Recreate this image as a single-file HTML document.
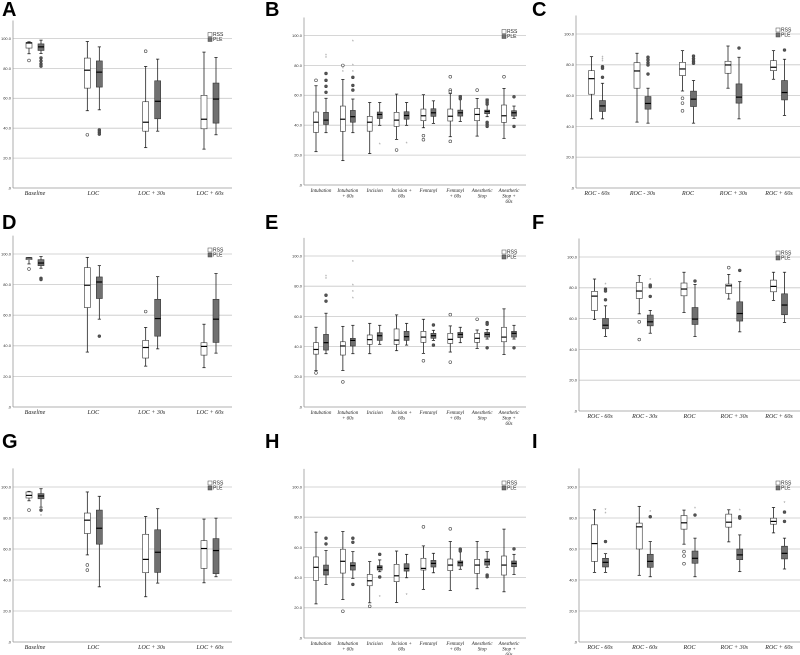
<!DOCTYPE html>
<html><head><meta charset="utf-8"><style>
html,body{margin:0;padding:0;background:#fff;width:800px;height:655px;overflow:hidden}
svg{display:block}
.pl{font-family:"Liberation Sans",sans-serif;font-weight:bold;font-size:20px;fill:#000}
.tk{font-family:"Liberation Sans",sans-serif;font-size:4px;fill:#333}
.xl{font-family:"Liberation Serif",serif;font-style:italic;font-size:6px;fill:#222}
.xs{font-family:"Liberation Serif",serif;font-style:italic;font-size:5px;fill:#222}
.lg{font-family:"Liberation Sans",sans-serif;font-size:5px;fill:#222}
</style></head><body>
<svg id="fig" width="800" height="655" viewBox="0 0 800 655"></svg>
<script>
// ---- data (stats: [whiskerLow, q1, median, q3, whiskerHigh]) ----
const catsLOC=["Baseline","LOC","LOC + 30s","LOC + 60s"];
const catsEvt=["Intubation","Intubation|+ 60s","Incision","Incision +|60s","Fentanyl","Fentanyl|+ 60s","Anesthetic|Stop","Anesthetic|Stop +|60s"];
const catsROC=["ROC - 60s","ROC - 30s","ROC","ROC + 30s","ROC + 60s"];
const catsROC2=["ROC - 60s","ROC - 60s","ROC","ROC + 30s","ROC + 60s"];
const yTicks=[0,20,40,60,80,100];
const yTickLabels=[".0","20.0","40.0","60.0","80.0","100.0"];

const A_rss=[[89.8,93.6,97,97.3,97.8],[51.7,66.8,78.8,86.9,98],[27,38,44,57.7,81.3],[26,39.6,46,62,90.9]];
const A_ple=[[90,92,94.4,96.4,98.9],[52.3,67.5,77.5,85,94.4],[38,46.3,58,71.7,86.2],[35.6,43.4,59.5,70.2,87.3]];
const A_rssOut=[[85.3],[35.6],[91.5],[]];
const A_pleOut=[[87,85,83,81.5],[38.8,37.4,36],[],[]];

const B_rss=[[22.3,35.2,42,48.8,66.4],[16.3,35.9,44,52.8,70.6],[21,36,42,45.9,55.2],[30.5,39.2,43.4,48.6,60.8],[38.3,43,46.3,50.8,60.4],[32.3,42.8,46,50.8,61.2],[32.7,43,47.2,51.2,57.9],[31.2,41.9,46.3,53.5,64.6]];
const B_ple=[[35,40.5,43.4,48.6,58],[35,42,45.7,49.9,57.5],[39.9,44.5,47.2,48.8,55.2],[39.9,44,46.5,49,55.2],[41.2,45.9,48.3,51,56.3],[42.5,46.1,48.3,50.1,59.7],[45.7,47.7,49.2,50.1,57.5],[44.5,46.1,48.3,49.7,52.8]];
const B_rssOut=[[70],[80],[],[23.4],[33,30.3],[72.4,63.5,62.4,29.2],[63.5],[72.4]];
const B_pleOut=[[74.6,70,66,62],[72,66.6,63.5],[],[],[],[59,57.7],[56.8,55.5,54.1,41.9,40.5,39.2],[59,39.2]];
const B_rssExt=[[],[78,75.5],[],[],[],[],[],[]];
const B_pleExt=[[86.6,84.9],[96,80,75.5],[27.2],[27.8],[],[],[],[]];

const C_rss=[[44.9,60.9,71,76.2,85.3],[42.8,64.8,76,81.4,87.5],[63,73,77.3,81.6,89.2],[64.8,74.5,79.9,82.3,92.2],[70.6,76.2,78.4,82.7,89.2]];
const C_ple=[[44.9,49.7,53.3,56.8,68],[42.1,51.2,54.9,59.4,64.8],[42.1,52.9,57.7,62.9,69.8],[44.9,55.1,59,67.6,84.9],[47.1,57.2,62,69.8,83.6]];
const C_rssOut=[[],[],[58.3,55.1,50.1],[],[]];
const C_pleOut=[[78.8,77.8,71.9],[84.9,83.2,81.4,79.9,74],[85.7,84,82.3,81],[90.9],[89.6]];
const C_pleExt=[[84.9,83.6,82],[],[],[],[]];

const D_rss=[[93.5,96.3,97.4,97.6,97.6],[35.9,65,79.6,91.1,97.8],[26.7,32,38.9,43.5,52],[25.7,33.9,39.6,42,54.1]];
const D_ple=[[90.7,92.4,94.1,96.3,98.3],[57.4,70.9,81.7,85,92.4],[38,46.3,57.8,70.4,85.2],[35.2,42.2,57.4,70.4,87.2]];
const D_rssOut=[[90.2],[],[62.4],[]];
const D_pleOut=[[84.1,83.3],[46.3],[],[]];

const E_rss=[[24.2,35,38.1,42.6,52.8],[24.2,34.4,40.4,43.2,53.4],[35.3,41.5,44.6,47.7,55.4],[37.3,41.5,44.3,51.7,61],[35.5,42.8,46.3,50.1,58.1],[36.4,42.1,44.8,48.8,53.7],[38.8,42.8,45.5,48.8,51],[34.8,43.2,46.3,52.8,65]];
const E_ple=[[35.3,37.7,42.6,48.1,62.1],[35.3,40.4,44.1,45.5,54.1],[41.5,44.1,47.2,49.2,54.1],[41,44.1,46.6,50.1,55.4],[44.1,45.5,47.2,48.8,50.8],[42.6,45.9,48.1,49.4,52.8],[45,46.3,48.1,49.4,51.4],[45,46.3,48.8,50.1,54.1]];
const E_rssOut=[[22.6],[16.6],[],[],[30.6],[61.2,29.7],[58.1],[]];
const E_pleOut=[[74,70.1],[],[],[],[54.3,41],[],[55.9,54.8,39.2],[39.2]];
const E_pleExt=[[86.3,84.7],[96,80.3,76,72],[],[],[],[],[],[]];

const F_rss=[[59.4,65.3,74.6,77.7,85.7],[63.1,73.1,77.9,83.5,87.9],[64,74.8,79.2,83.1,90.1],[72.7,76.4,81.3,82.4,88.7],[71.8,77.4,80.9,85,90.1]];
const F_ple=[[48.4,53.4,55.7,60.1,68.3],[50.5,55.3,57.9,62.3,65.3],[48.4,56.2,59.7,67.2,82.2],[51.4,58.4,63.3,70.9,84],[57.5,62.5,68.8,76.1,90.1]];
const F_rssOut=[[],[57.9,46.4],[],[93.1],[]];
const F_pleOut=[[79.2,77.9,72.2],[81.8,80.7,74.4],[84.4],[91.3],[]];
const F_pleExt=[[82.2],[85.2],[],[],[]];

const G_rss=[[91.1,92.9,94.6,96.8,97.2],[56.2,70,78.6,83.2,96.8],[29.2,44.7,53.3,69.5,81],[38.2,47.5,60.3,65.4,79.3]];
const G_ple=[[87,92.4,94.2,95.7,98.9],[35.6,63.1,73.4,85.1,94],[38,44.9,57.9,72.4,86],[42.1,44.1,59,66.7,79.9]];
const G_rssOut=[[85.1],[49.7,46.4],[],[]];
const G_pleOut=[[85.1],[],[],[]];
const G_pleExt=[[81.2],[],[],[]];

const H_rss=[[22.6,38.1,46.8,53.7,70.1],[25.5,43,50.8,58.8,70.5],[23.3,34.6,37.9,42.1,50.6],[23.5,37.3,41.2,48.8,57.6],[32.2,45,46.1,52.8,61],[31.5,44.6,48.3,52.3,63.9],[32.6,42.8,48.3,52.1,63.9],[30.6,41.7,48.3,54.3,72.1]];
const H_ple=[[35.5,41.7,45,48.3,57.9],[39.5,45,47.9,49.9,57.2],[43.9,45,46.8,47.9,51.7],[39.9,44.3,46.1,49.2,55.4],[43.2,47,49.4,51.4,56.1],[45.5,47.7,49.9,51,59],[46.8,48.3,50.6,52.3,57.2],[42.1,47.2,49.4,51,55.4]];
const H_rssOut=[[],[17.7],[21],[],[73.6],[72.3],[],[]];
const H_pleOut=[[66.1,62.3],[66.1,63.4,35.5],[55.4,40.4],[],[],[58.8,57.6],[41.7,40.6],[59]];
const H_pleExt=[[],[],[27.3],[28.4],[],[],[],[]];

const I_rss=[[44.9,52,63.5,75.6,85.3],[43,60,74.3,76.7,87.5],[63.1,72.8,76.9,81.6,85.1],[64.6,74.1,77.3,82.5,85.3],[70.4,76,77.8,79.9,86.8]];
const I_ple=[[44.9,48.4,51.4,54,57],[42.1,48.2,52,56.6,64.8],[42.1,50.8,54,58.7,67],[45.4,53.1,56.2,60,69.1],[47.1,53.6,57.2,61.8,67]];
const I_rssOut=[[],[],[58.3,55.5,50.5],[],[]];
const I_pleOut=[[64.8],[80.8],[81.9],[80.8,79.9],[83.8,77.8]];
const I_pleExt=[[85.1,82.9],[83.8],[86],[84.7],[89.8]];

const NS="http://www.w3.org/2000/svg";
const fig=document.getElementById('fig');
function mk(tag,attrs,parent){const e=document.createElementNS(NS,tag);for(const k in attrs)e.setAttribute(k,attrs[k]);(parent||fig).appendChild(e);return e;}

function panel(p){
  const g=mk('g',{});
  
  
  const yS=v=>p.y0-(p.y0-p.y100)*v/100;
  const n=p.cats.length;
  const xS=i=>p.ax+p.pad+(p.right-p.ax-2*p.pad)*(n===1?0:i/(n-1));
  const t=mk('text',{x:p.lx,y:p.ly,class:'pl'},g);t.textContent=p.letter;
  
  
  yTicks.forEach((v,i)=>{
    const y=yS(v);
    if(v>0){const gl=mk('line',{x1:p.ax,x2:p.right,y1:y,y2:y,stroke:'#c8c8c8','stroke-width':0.8},g);
      
      }
    const tl=mk('text',{x:p.ax-2,y:y+1.4,class:'tk','text-anchor':'end'},g);tl.textContent=yTickLabels[i];
    
    
  });
  const ya=mk('line',{x1:p.ax,x2:p.ax,y1:yS(112),y2:p.y0,stroke:'#999','stroke-width':0.8},g);
  
  
  const xa=mk('line',{x1:p.ax,x2:p.right,y1:p.y0,y2:p.y0,stroke:'#999','stroke-width':0.8},g);
  
  
  const series=[{st:p.rss,out:p.rssOut,ext:p.rssExt,fill:'#fff',of:'#fff',off:-p.off,name:'rss'},
                {st:p.ple,out:p.pleOut,ext:p.pleExt,fill:'#707070',of:'#555',off:p.off,name:'ple'}];
  p.cats.forEach((c,i)=>{
    const cx=xS(i);
    series.forEach(s=>{
      const d=s.st[i];const x=cx+s.off;const w=p.bw;
      const bg=mk('g',{},g);
      
      
      mk('line',{x1:x,x2:x,y1:yS(d[0]),y2:yS(d[4]),stroke:'#222','stroke-width':0.8},bg);
      mk('line',{x1:x-1.6,x2:x+1.6,y1:yS(d[0]),y2:yS(d[0]),stroke:'#222','stroke-width':0.8},bg);
      mk('line',{x1:x-1.6,x2:x+1.6,y1:yS(d[4]),y2:yS(d[4]),stroke:'#222','stroke-width':0.8},bg);
      mk('rect',{x:x-w/2,y:yS(d[3]),width:w,height:Math.max(0.5,yS(d[1])-yS(d[3])),fill:s.fill,stroke:'#333','stroke-width':0.6},bg);
      mk('line',{x1:x-w/2,x2:x+w/2,y1:yS(d[2]),y2:yS(d[2]),stroke:'#000','stroke-width':1.2},bg);
      (s.out[i]||[]).forEach(v=>{mk('circle',{cx:x,cy:yS(v),r:1.4,fill:s.of,stroke:'#444','stroke-width':0.6},bg);});
      ((s.ext||[])[i]||[]).forEach(v=>{mk('text',{x:x,y:yS(v)+2,'text-anchor':'middle','font-size':'5px',fill:'#999','font-family':'Liberation Sans,sans-serif'},bg).textContent='*';});
    });
    const lines=c.split('|');
    const lt=mk('text',{x:cx,y:p.y0+7,class:p.small?'xs':'xl','text-anchor':'middle'},g);
    
    
    lines.forEach((l,k)=>{const ts=mk('tspan',{x:cx,dy:k?5.5:0},lt);ts.textContent=l;});
  });
  const lgx=p.right-24, lgy=p.y100-6;
  const lg=mk('g',{},g);
  
  
  mk('rect',{x:lgx,y:lgy,width:4,height:4,fill:'#fff',stroke:'#444','stroke-width':0.5},lg);
  mk('rect',{x:lgx,y:lgy+5,width:4,height:4,fill:'#707070',stroke:'#444','stroke-width':0.5},lg);
  mk('text',{x:lgx+5,y:lgy+3.6,class:'lg'},lg).textContent='RSS';
  mk('text',{x:lgx+5,y:lgy+8.6,class:'lg'},lg).textContent='PLE';
}
const L={pad:22,off:6,bw:6}, E={pad:17,off:5,bw:5,small:true}, R={pad:21,off:5.5,bw:6};
panel(Object.assign({letter:'A',lx:2,ly:16,ax:13,right:232,y100:38.5,y0:188,cats:catsLOC,rss:A_rss,ple:A_ple,rssOut:A_rssOut,pleOut:A_pleOut},L));
panel(Object.assign({letter:'B',lx:265,ly:16,ax:304,right:526,y100:35.5,y0:185,cats:catsEvt,rss:B_rss,ple:B_ple,rssOut:B_rssOut,pleOut:B_pleOut,rssExt:B_rssExt,pleExt:B_pleExt},E));
panel(Object.assign({letter:'C',lx:532,ly:16,ax:576,right:800,y100:34,y0:188,cats:catsROC,rss:C_rss,ple:C_ple,rssOut:C_rssOut,pleOut:C_pleOut,pleExt:C_pleExt},R));
panel(Object.assign({letter:'D',lx:2,ly:229,ax:13,right:232,y100:254,y0:407,cats:catsLOC,rss:D_rss,ple:D_ple,rssOut:D_rssOut,pleOut:D_pleOut},L));
panel(Object.assign({letter:'E',lx:265,ly:229,ax:304,right:526,y100:256,y0:407,cats:catsEvt,rss:E_rss,ple:E_ple,rssOut:E_rssOut,pleOut:E_pleOut,pleExt:E_pleExt},E));
panel(Object.assign({letter:'F',lx:532,ly:229,ax:579,right:800,y100:257,y0:411,cats:catsROC,rss:F_rss,ple:F_ple,rssOut:F_rssOut,pleOut:F_pleOut,pleExt:F_pleExt},R));
panel(Object.assign({letter:'G',lx:2,ly:448,ax:13,right:232,y100:487,y0:642,cats:catsLOC,rss:G_rss,ple:G_ple,rssOut:G_rssOut,pleOut:G_pleOut,pleExt:G_pleExt},L));
panel(Object.assign({letter:'H',lx:265,ly:448,ax:304,right:526,y100:487,y0:638,cats:catsEvt,rss:H_rss,ple:H_ple,rssOut:H_rssOut,pleOut:H_pleOut,pleExt:H_pleExt},E));
panel(Object.assign({letter:'I',lx:532,ly:448,ax:579,right:800,y100:487,y0:642,cats:catsROC2,rss:I_rss,ple:I_ple,rssOut:I_rssOut,pleOut:I_pleOut,pleExt:I_pleExt},R));
</script>
</body></html>
